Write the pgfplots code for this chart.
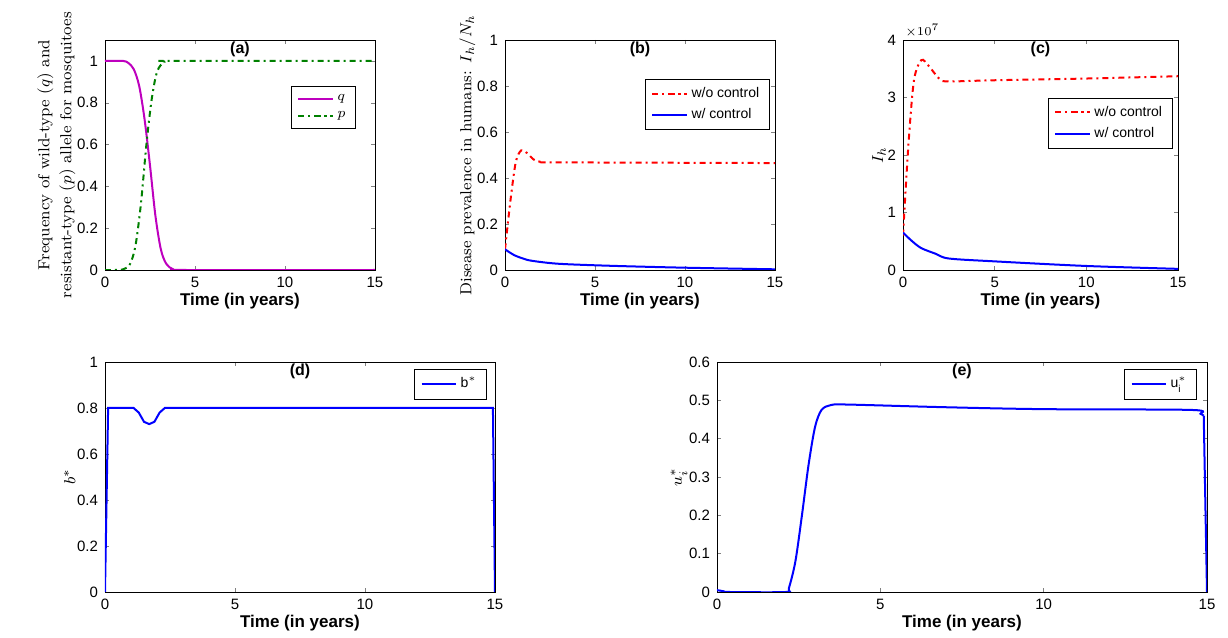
\documentclass[border=0pt]{standalone}
\usepackage{pgfplots}
\pgfplotsset{compat=1.18}
\usepackage{fontspec}
\setsansfont{Liberation Sans}
\definecolor{mag}{RGB}{190,0,190}
\begin{document}
\begin{tikzpicture}
\useasboundingbox (0pt,0pt) rectangle (614pt,319pt);
\pgfplotsset{every axis/.style={scale only axis, anchor=south west, xmin=0,xmax=15, xtick={0,5,10,15},
 tick label style={font=\sffamily\fontsize{7.5}{8}\selectfont}, /pgf/number format/assume math mode=true,
 xlabel={\sffamily\bfseries\fontsize{8.5}{9}\selectfont Time (in years)}, xlabel style={yshift=4pt},
 tick align=inside, major tick length=2pt, line width=0.4pt, axis line style={black},
 legend style={font=\sffamily\fontsize{7}{8}\selectfont, cells={anchor=west}},
 title style={font=\sffamily\bfseries\fontsize{8}{9}\selectfont, at={(0.5,0.97)}, anchor=north},
 every axis plot/.append style={line width=1pt}}}
% (a)
\begin{axis}[at={(52.5pt,184pt)}, width=135pt, height=115pt, ymin=0,ymax=1.1, ytick={0,0.2,0.4,0.6,0.8,1}, title={(a)},
 ylabel={\fontsize{8}{9}\selectfont\shortstack{Frequency of wild-type ($q$) and\\resistant-type ($p$) allele for mosquitoes}}, ylabel style={yshift=-6pt},
 legend style={at={(0.93,0.8)},anchor=north east}]
\addplot[color=mag, smooth] coordinates {(0,1)(1,1)(1.3,0.99)(1.6,0.96)(1.9,0.88)(2.2,0.72)(2.5,0.5)(2.8,0.26)(3.1,0.1)(3.4,0.03)(3.8,0.003)(4.5,0)(15,0)};
\addplot[color=green!50!black, dash dot, smooth] coordinates {(0,0)(1,0.003)(1.4,0.03)(1.7,0.12)(2.0,0.32)(2.3,0.6)(2.6,0.82)(2.9,0.95)(3.3,0.995)(3.8,1)(15,1)};
\legend{$q$,$p$}
\end{axis}
% (b)
\begin{axis}[at={(252.5pt,184pt)}, width=135pt, height=115pt, ymin=0,ymax=1, ytick={0,0.2,0.4,0.6,0.8,1}, title={(b)},
 ylabel={\fontsize{8}{9}\selectfont Disease prevalence in humans: $I_h/N_h$}, ylabel style={yshift=-6pt},
 legend style={at={(0.98,0.83)},anchor=north east}]
\addplot[red, dash dot, smooth] coordinates {(0,0.09)(0.3,0.3)(0.6,0.47)(0.9,0.52)(1.2,0.51)(1.6,0.48)(2,0.47)(3,0.468)(15,0.465)};
\addplot[blue, smooth] coordinates {(0,0.09)(0.5,0.065)(1,0.05)(1.5,0.04)(3,0.027)(6,0.018)(10,0.01)(15,0.003)};
\legend{w/o control,w/ control}
\end{axis}
% (c)
\begin{axis}[at={(451.5pt,184pt)}, width=137.5pt, height=115pt, ymin=0,ymax=4e7, ytick={0,1e7,2e7,3e7,4e7}, title={(c)},
 scaled y ticks=manual:{$\times10^{7}$}{\pgfmathparse{#1/1e7}}, ylabel={\fontsize{8}{9}\selectfont $I_h$}, ylabel style={yshift=-6pt},
 every y tick scale label/.style={at={(0,1)},anchor=south west,inner sep=1pt,font=\sffamily\fontsize{6.5}{7}\selectfont},
 legend style={at={(0.98,0.75)},anchor=north east}]
\addplot[red, dash dot, smooth] coordinates {(0,0.6e7)(0.3,2.2e7)(0.6,3.3e7)(1,3.65e7)(1.4,3.55e7)(2,3.32e7)(2.5,3.28e7)(5,3.3e7)(10,3.33e7)(15,3.37e7)};
\addplot[blue, smooth] coordinates {(0,0.65e7)(0.5,0.5e7)(1,0.38e7)(1.8,0.28e7)(2.5,0.2e7)(5,0.15e7)(10,0.07e7)(15,0.02e7)};
\legend{w/o control,w/ control}
\end{axis}
% (d)
\begin{axis}[at={(52.5pt,23pt)}, width=195pt, height=115pt, ymin=0,ymax=1, ytick={0,0.2,0.4,0.6,0.8,1}, title={(d)},
 ylabel={\fontsize{8}{9}\selectfont $b^*$}, ylabel style={yshift=-6pt},
 legend style={at={(0.98,0.97)},anchor=north east}]
\addplot[blue] coordinates {(0,0)(0.12,0.8)(1.1,0.8)(1.3,0.78)(1.5,0.74)(1.7,0.73)(1.9,0.74)(2.1,0.78)(2.3,0.8)(14.92,0.8)(15,0)};
\legend{$\mathsf{b}^*$}
\end{axis}
% (e)
\begin{axis}[at={(358.5pt,23pt)}, width=245pt, height=115pt, ymin=0,ymax=0.6, ytick={0,0.1,0.2,0.3,0.4,0.5,0.6}, title={(e)},
 ylabel={\fontsize{8}{9}\selectfont $u_i^*$}, ylabel style={yshift=-6pt},
 legend style={at={(0.98,0.97)},anchor=north east}]
\addplot[blue, smooth] coordinates {(0,0.005)(0.2,0.002)(0.4,0)(2.1,0)(2.2,0.01)(2.4,0.08)(2.6,0.2)(2.8,0.33)(3.0,0.43)(3.2,0.475)(3.5,0.488)(4,0.489)(7,0.482)(10,0.477)(14.5,0.475)(14.8,0.465)(14.9,0.46)};
\addplot[blue] coordinates {(14.9,0.46)(15,0)};
\legend{$\mathsf{u}_\mathsf{i}^*$}
\end{axis}
\end{tikzpicture}
\end{document}
